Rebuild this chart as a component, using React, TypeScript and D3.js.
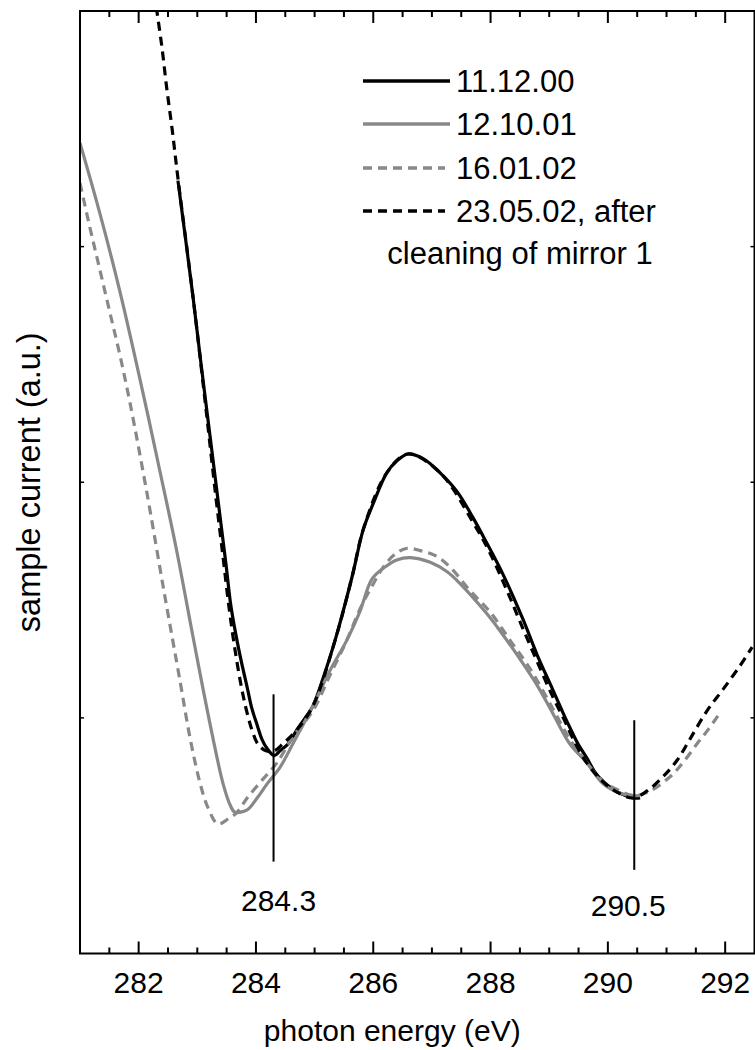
import React from "react";
import * as d3 from "d3";

// photon energy (eV) / sample current (a.u.)
const s111200X = [282.67, 282.93, 283.05, 283.22, 283.39, 283.49, 283.57, 283.66, 283.75, 283.85, 283.93, 284.02, 284.10, 284.19, 284.31, 284.41, 284.55, 284.70, 284.84, 284.97, 285.16, 285.35, 285.64, 285.83, 286.00, 286.23, 286.40, 286.59, 286.85, 287.14, 287.43, 287.70, 287.94, 288.21, 288.55, 288.79, 289.06, 289.22, 289.35, 289.49, 289.64, 289.78, 289.92, 290.07, 290.21, 290.43, 290.55];
const s111200Y = [3.28, 2.78, 2.53, 2.19, 1.85, 1.65, 1.48, 1.35, 1.24, 1.13, 1.04, 0.97, 0.91, 0.87, 0.84, 0.86, 0.89, 0.95, 1.00, 1.05, 1.18, 1.33, 1.60, 1.80, 1.91, 2.04, 2.09, 2.12, 2.10, 2.04, 1.96, 1.85, 1.74, 1.61, 1.42, 1.27, 1.12, 1.03, 0.96, 0.89, 0.83, 0.77, 0.73, 0.70, 0.68, 0.66, 0.66];

const s121001X = [281.00, 281.34, 281.68, 282.02, 282.36, 282.64, 282.93, 283.10, 283.27, 283.44, 283.56, 283.64, 283.85, 284.02, 284.19, 284.41, 284.63, 284.97, 285.26, 285.55, 285.77, 285.98, 286.20, 286.40, 286.63, 286.97, 287.26, 287.48, 287.91, 288.16, 288.50, 288.79, 289.06, 289.35, 289.64, 289.92, 290.21, 290.43, 290.55];
const s121001Y = [3.44, 3.14, 2.81, 2.44, 2.05, 1.72, 1.34, 1.12, 0.91, 0.72, 0.63, 0.60, 0.61, 0.66, 0.72, 0.79, 0.89, 1.05, 1.20, 1.33, 1.45, 1.59, 1.64, 1.67, 1.68, 1.66, 1.62, 1.57, 1.45, 1.37, 1.25, 1.14, 1.02, 0.89, 0.81, 0.72, 0.68, 0.67, 0.67];

const s160102X = [281.00, 281.17, 281.34, 281.51, 281.68, 281.85, 282.13, 282.43, 282.71, 282.88, 283.05, 283.18, 283.35, 283.52, 283.68, 283.85, 284.12, 284.36, 284.63, 284.97, 285.26, 285.55, 285.77, 285.98, 286.20, 286.40, 286.58, 286.80, 287.05, 287.31, 287.65, 287.99, 288.33, 288.67, 289.06, 289.35, 289.64, 289.92, 290.21, 290.43, 290.72, 291.06, 291.28, 291.52, 291.71, 291.88];
const s160102Y = [3.27, 3.08, 2.90, 2.72, 2.54, 2.34, 1.97, 1.54, 1.15, 0.91, 0.72, 0.62, 0.55, 0.57, 0.60, 0.66, 0.74, 0.81, 0.92, 1.03, 1.18, 1.33, 1.46, 1.56, 1.65, 1.70, 1.72, 1.71, 1.69, 1.64, 1.54, 1.45, 1.33, 1.21, 1.04, 0.91, 0.81, 0.73, 0.69, 0.67, 0.69, 0.75, 0.81, 0.89, 0.95, 1.01];

const s230502X = [282.26, 282.31, 282.40, 282.48, 282.57, 282.67, 282.93, 283.13, 283.32, 283.44, 283.54, 283.63, 283.73, 283.83, 283.93, 284.03, 284.17, 284.31, 284.46, 284.70, 284.97, 285.35, 285.64, 285.83, 286.23, 286.59, 287.14, 287.70, 287.99, 288.28, 288.55, 288.81, 289.06, 289.24, 289.39, 289.61, 289.87, 290.12, 290.43, 290.67, 290.94, 291.18, 291.40, 291.69, 291.96, 292.25, 292.46];
const s230502Y = [4.08, 4.00, 3.84, 3.67, 3.50, 3.29, 2.78, 2.35, 1.93, 1.68, 1.47, 1.31, 1.16, 1.04, 0.95, 0.89, 0.86, 0.86, 0.89, 0.95, 1.05, 1.33, 1.60, 1.80, 2.04, 2.12, 2.04, 1.83, 1.70, 1.54, 1.38, 1.23, 1.09, 1.00, 0.92, 0.82, 0.74, 0.69, 0.66, 0.69, 0.75, 0.82, 0.91, 1.03, 1.12, 1.22, 1.30];

const seriesNames = ["11.12.00", "12.10.01", "16.01.02", "23.05.02, after"];
const legendExtra = "cleaning of mirror 1";

const xMajorTicks = [282, 284, 286, 288, 290, 292];
const xMinorTicks = [281.5, 282.5, 283, 283.5, 284.5, 285, 285.5, 286.5, 287, 287.5, 288.5, 289, 289.5, 290.5, 291, 291.5];
const yTicks = [1, 2, 3];

const markerX = [284.3, 290.45];
const markerLabels = ["284.3", "290.5"];
const markerTop = [1.1, 0.99];
const markerBottom = [0.39, 0.355];
const markerLabelY = [0.18, 0.16];

const W = 755;
const H = 1050;
const left = 80;
const right = 754.5;
const top = 11;
const bottom = 953.5;
const FONT = "'Liberation Sans', Arial, Helvetica, sans-serif";

export default function App() {
  const x = d3.scaleLinear().domain([281, 292.5]).range([left, right]);
  const y = d3.scaleLinear().domain([0, 4]).range([bottom, top]);

  const line = d3
    .line<[number, number]>()
    .x((d) => x(d[0]))
    .y((d) => y(d[1]))
    .curve(d3.curveCatmullRom.alpha(0.5));

  const zip = (a: number[], b: number[]) => a.map((v, i) => [v, b[i]] as [number, number]);

  const series = [
    { name: seriesNames[0], d: zip(s111200X, s111200Y), color: "#000", dash: null as string | null },
    { name: seriesNames[1], d: zip(s121001X, s121001Y), color: "#888", dash: null as string | null },
    { name: seriesNames[2], d: zip(s160102X, s160102Y), color: "#888", dash: "9,6" },
    { name: seriesNames[3], d: zip(s230502X, s230502Y), color: "#000", dash: "9,6" },
  ];

  const legendX0 = 363;
  const legendRowY = [81, 124, 168, 211];
  const legendBase = [92, 135, 179, 222, 264];

  return (
    <svg
      width={W}
      height={H}
      style={{ position: "absolute", left: 0, top: 0, background: "#fff" }}
      fontFamily={FONT}
    >
      <defs>
        <clipPath id="plotclip">
          <rect x={left} y={top} width={right - left} height={bottom - top} />
        </clipPath>
      </defs>
      <rect x={0} y={0} width={W} height={H} fill="#fff" />

      <g clipPath="url(#plotclip)">
        {series.map((s, i) => (
          <path
            key={i}
            d={line(s.d) || ""}
            fill="none"
            stroke={s.color}
            strokeWidth={3.2}
            strokeDasharray={s.dash || undefined}
            strokeLinejoin="round"
          />
        ))}
      </g>

      {/* markers */}
      {markerX.map((m, i) => (
        <g key={i}>
          <line x1={x(m)} x2={x(m)} y1={y(markerTop[i])} y2={y(markerBottom[i])} stroke="#000" strokeWidth={2} />
          <text x={x(m) + (i === 0 ? 5 : -6)} y={y(markerLabelY[i])} fontSize={30} textAnchor="middle">
            {markerLabels[i]}
          </text>
        </g>
      ))}

      {/* frame */}
      <rect x={left} y={top} width={right - left} height={bottom - top} fill="none" stroke="#000" strokeWidth={2} />

      {/* x ticks */}
      {xMajorTicks.map((t) => (
        <g key={"M" + t}>
          <line x1={x(t)} x2={x(t)} y1={bottom} y2={bottom - 12} stroke="#000" strokeWidth={2} />
          <line x1={x(t)} x2={x(t)} y1={top} y2={top + 12} stroke="#000" strokeWidth={2} />
          <text x={x(t)} y={993} fontSize={30} textAnchor="middle">
            {t}
          </text>
        </g>
      ))}
      {xMinorTicks.map((t) => (
        <g key={"m" + t}>
          <line x1={x(t)} x2={x(t)} y1={bottom} y2={bottom - 6} stroke="#000" strokeWidth={2} />
          <line x1={x(t)} x2={x(t)} y1={top} y2={top + 6} stroke="#000" strokeWidth={2} />
        </g>
      ))}
      {yTicks.map((t) => (
        <g key={"y" + t}>
          <line x1={left} x2={left + 4} y1={y(t)} y2={y(t)} stroke="#000" strokeWidth={1.5} />
          <line x1={right} x2={right - 4} y1={y(t)} y2={y(t)} stroke="#000" strokeWidth={1.5} />
        </g>
      ))}

      {/* axis titles */}
      <text x={(left + right) / 2 - 25} y={1041} fontSize={30} textAnchor="middle">
        photon energy (eV)
      </text>
      <text
        transform={`translate(40, ${(top + bottom) / 2}) rotate(-90)`}
        fontSize={32.5}
        textAnchor="middle"
      >
        sample current (a.u.)
      </text>

      {/* legend */}
      {series.map((s, i) => (
        <g key={"L" + i}>
          <line
            x1={legendX0}
            x2={s.dash ? 445 : 450}
            y1={legendRowY[i]}
            y2={legendRowY[i]}
            stroke={s.color}
            strokeWidth={3.5}
            strokeDasharray={s.dash || undefined}
          />
          <text x={456} y={legendBase[i]} fontSize={31}>
            {s.name}
          </text>
        </g>
      ))}
      <text x={520} y={legendBase[4]} fontSize={31} textAnchor="middle">
        {legendExtra}
      </text>
    </svg>
  );
}
